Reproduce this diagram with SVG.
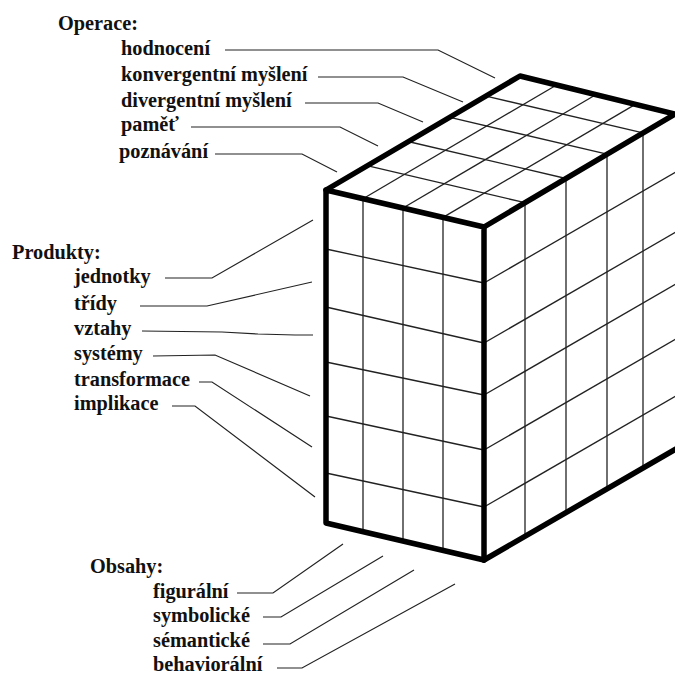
<svg xmlns="http://www.w3.org/2000/svg" width="675" height="675" viewBox="0 0 675 675">
<style>
text{font-family:"Liberation Serif","Times New Roman",serif;font-weight:bold;font-size:20.3px;fill:#111}
.thin{fill:none;stroke:#222;stroke-width:1.3}
.lead{fill:none;stroke:#222;stroke-width:1.2}
.thick{fill:none;stroke:#000;stroke-width:5.5;stroke-linejoin:round;stroke-linecap:round}
</style>
<rect width="675" height="675" fill="#fff"/>
<g id="cube">
<g id="front-grid" class="thin">
<line x1="363" y1="198.7" x2="363" y2="531.7"/>
<line x1="403" y1="208" x2="403" y2="541"/>
<line x1="443" y1="217.4" x2="443" y2="550.4"/>
<line x1="326" y1="249" x2="484" y2="283"/>
<line x1="326" y1="307" x2="484" y2="343"/>
<line x1="326" y1="362" x2="484" y2="395"/>
<line x1="326" y1="416" x2="484" y2="450"/>
<line x1="326" y1="473" x2="484" y2="507"/>
</g>
<g id="top-grid" class="thin">
<line x1="363" y1="198.7" x2="557" y2="84.7"/>
<line x1="403" y1="208" x2="597" y2="94"/>
<line x1="443" y1="217.4" x2="637" y2="103.4"/>
<line x1="367" y1="165.7" x2="525" y2="202.7"/>
<line x1="408" y1="141.5" x2="566" y2="178.5"/>
<line x1="449" y1="117.2" x2="607" y2="154.2"/>
<line x1="485" y1="95.9" x2="643" y2="132.9"/>
</g>
<g id="right-grid" class="thin">
<line x1="525" y1="202.7" x2="525" y2="536.3"/>
<line x1="566" y1="178.5" x2="566" y2="512.6"/>
<line x1="607" y1="154.2" x2="607" y2="488.9"/>
<line x1="643" y1="132.9" x2="643" y2="468.1"/>
<line x1="484" y1="283" x2="676" y2="172"/>
<line x1="484" y1="343" x2="676" y2="232"/>
<line x1="484" y1="395" x2="676" y2="284"/>
<line x1="484" y1="450" x2="676" y2="339"/>
<line x1="484" y1="507" x2="676" y2="396"/>
</g>
<g id="edges" class="thick">
<polygon points="326,190 484,227 484,560 326,523"/>
<polyline points="326,190 520,76 675,114 484,227"/>
<line x1="484" y1="560" x2="676" y2="449"/>
</g>
</g>
<g id="connectors" class="lead">
<polyline points="225,50 438,50 495,78"/>
<polyline points="318,77 403,77 463,102"/>
<polyline points="305,103 378,103 423,122"/>
<polyline points="191,127 340,127 378,146"/>
<polyline points="215,154 302,154 337,172"/>
<polyline points="165,278 212,278 313,220"/>
<polyline points="140,306 207,306 312,282"/>
<polyline points="142,331 222,332 258,334 295,335 313,335"/>
<polyline points="153,356 215,355 310,396"/>
<polyline points="199,382 212,382 312,447"/>
<polyline points="172,406 195,406 315,497"/>
<polyline points="237,593 273,593 343,544"/>
<polyline points="263,617 281,617 383,556"/>
<polyline points="263,644 290,644 414,570"/>
<polyline points="277,668 302,668 455,584"/>
</g>
<g id="operace">
<text x="58" y="30">Operace:</text>
<g id="op-hodnoceni"><text x="121" y="55">hodnocení</text></g>
<g id="op-konvergentni"><text x="121" y="81">konvergentní myšlení</text></g>
<g id="op-divergentni"><text x="121" y="107">divergentní myšlení</text></g>
<g id="op-pamet"><text x="121" y="131">paměť</text></g>
<g id="op-poznavani"><text x="119" y="158">poznávání</text></g>
</g>
<g id="produkty">
<text x="12" y="259">Produkty:</text>
<g id="pr-jednotky"><text x="74" y="283">jednotky</text></g>
<g id="pr-tridy"><text x="74" y="310">třídy</text></g>
<g id="pr-vztahy"><text x="74" y="335">vztahy</text></g>
<g id="pr-systemy"><text x="74" y="360">systémy</text></g>
<g id="pr-transformace"><text x="74" y="386">transformace</text></g>
<g id="pr-implikace"><text x="74" y="410">implikace</text></g>
</g>
<g id="obsahy">
<text x="90" y="573">Obsahy:</text>
<g id="ob-figuralni"><text x="153" y="598">figurální</text></g>
<g id="ob-symbolicke"><text x="153" y="622">symbolické</text></g>
<g id="ob-semanticke"><text x="153" y="647">sémantické</text></g>
<g id="ob-behavioralni"><text x="153" y="671">behaviorální</text></g>
</g>
</svg>
